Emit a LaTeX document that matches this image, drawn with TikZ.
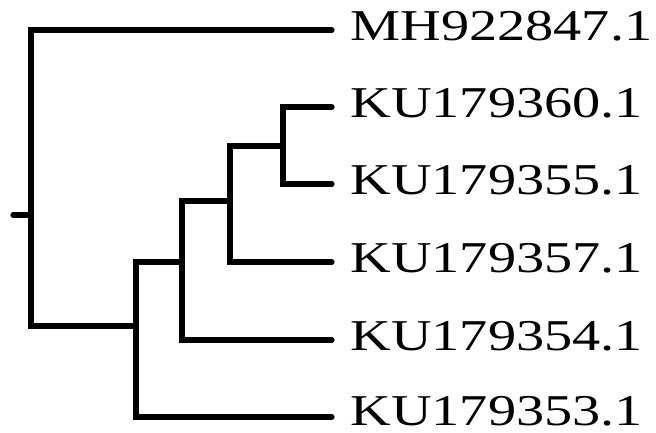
\documentclass[tikz,border=0pt]{standalone}
\usepackage{fontspec}
\setmainfont{Liberation Serif}
\usetikzlibrary{positioning}
\newcommand{\leaffont}{\fontsize{22}{25}\selectfont}
\newcommand{\leaftext}[1]{\scalebox{1.28}[1]{#1}}

\begin{document}
\begin{tikzpicture}[x=0.5pt,y=-0.5pt,
  branch/.style={line width=2.6pt,line cap=round},
  leaf/.style={anchor=west,inner sep=0pt,yshift=2pt,font=\leaffont}]
\useasboundingbox (0,0) rectangle (656,432);
% internal nodes
\coordinate (root) at (13,215);
\coordinate (n0) at (31,215);
\coordinate (n1) at (136,326);
\coordinate (n2) at (182,262);
\coordinate (n3) at (230,201);
\coordinate (n4) at (283,146);
% tips
\coordinate (tMH) at (332,30);
\coordinate (t360) at (332,107);
\coordinate (t355) at (332,184);
\coordinate (t357) at (332,262);
\coordinate (t354) at (332,340);
\coordinate (t353) at (332,417);
\node[leaf,right=9pt of tMH] (lMH) {\leaftext{MH922847.1}};
\node[leaf,right=9pt of t360] (l360) {\leaftext{KU179360.1}};
\node[leaf,right=9pt of t355] (l355) {\leaftext{KU179355.1}};
\node[leaf,right=9pt of t357] (l357) {\leaftext{KU179357.1}};
\node[leaf,right=9pt of t354] (l354) {\leaftext{KU179354.1}};
\node[leaf,right=9pt of t353,yshift=1pt] (l353) {\leaftext{KU179353.1}};
% branches
\draw[branch] (root) -- (n0);
\draw[branch] (tMH) -| (n0) |- (n1);
\draw[branch] (n2) -| (n1) |- (t353);
\draw[branch] (n3) -| (n2) |- (t354);
\draw[branch] (n4) -| (n3) |- (t357);
\draw[branch] (t360) -| (n4) |- (t355);
\end{tikzpicture}
\end{document}
